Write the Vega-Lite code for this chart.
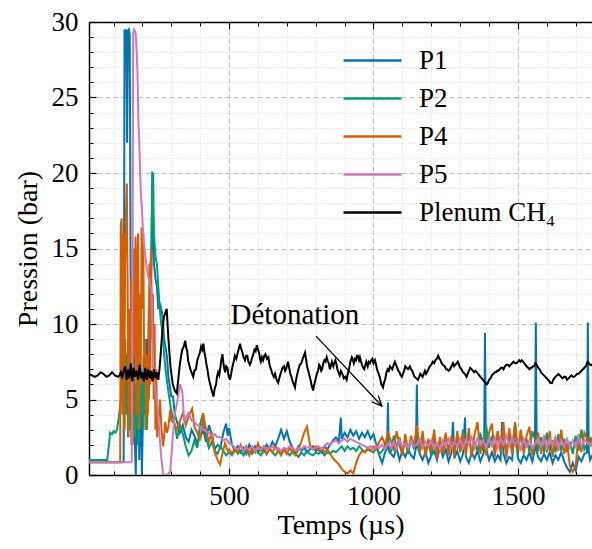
{
"$schema": "https://vega.github.io/schema/vega-lite/v6.json",
"width": 503, "height": 453,
"autosize": "none",
"padding": {"left": 89, "top": 22, "right": 0, "bottom": 74},
"background": "white",
"config": {"view": {"stroke": null}, "font": "Liberation Serif"},
"resolve": {"axis": {"x": "independent", "y": "independent"}},
"layer": [
{
"data": {"values": [
{"t":15,"P1":0.85,"P2":1.0,"P4":0.85,"P5":0.85,"Plenum CH₄":6.7},
{"t":25,"Plenum CH₄":6.6},{"t":35,"Plenum CH₄":6.5},{"t":45,"Plenum CH₄":6.6},{"t":55,"Plenum CH₄":6.8},{"t":65,"Plenum CH₄":6.7},{"t":75,"Plenum CH₄":6.5},{"t":85,"Plenum CH₄":6.6},{"t":95,"Plenum CH₄":6.8},{"t":105,"Plenum CH₄":6.6},{"t":115,"Plenum CH₄":6.5},
{"t":120,"Plenum CH₄":6.6},{"t":125,"Plenum CH₄":6.8},{"t":130,"Plenum CH₄":6.4},{"t":135,"Plenum CH₄":6.9},{"t":140,"Plenum CH₄":7.2},{"t":145,"Plenum CH₄":6.3},{"t":150,"Plenum CH₄":7.0},{"t":155,"Plenum CH₄":6.4},{"t":160,"Plenum CH₄":7.4},{"t":165,"Plenum CH₄":6.2},{"t":170,"Plenum CH₄":7.1},{"t":175,"Plenum CH₄":6.5},{"t":180,"Plenum CH₄":6.9},{"t":185,"Plenum CH₄":6.3},{"t":190,"Plenum CH₄":7.3},{"t":195,"Plenum CH₄":6.4},{"t":200,"Plenum CH₄":6.8},{"t":205,"Plenum CH₄":6.2},{"t":210,"Plenum CH₄":7.1},{"t":215,"Plenum CH₄":6.3},{"t":220,"Plenum CH₄":7.0},{"t":225,"Plenum CH₄":6.4},{"t":230,"Plenum CH₄":6.9},{"t":235,"Plenum CH₄":6.2},{"t":240,"Plenum CH₄":7.0},{"t":245,"Plenum CH₄":6.4},{"t":250,"Plenum CH₄":6.8},{"t":255,"Plenum CH₄":6.3},{"t":260,"Plenum CH₄":7.2},{"t":265,"Plenum CH₄":8.5},{"t":270,"Plenum CH₄":9.8},{"t":275,"Plenum CH₄":10.5},{"t":284,"Plenum CH₄":11.0},{"t":290,"Plenum CH₄":9.0},{"t":297,"Plenum CH₄":7.2},{"t":305,"Plenum CH₄":6.0},{"t":312,"Plenum CH₄":5.6},{"t":319,"Plenum CH₄":5.4},{"t":325,"Plenum CH₄":6.5},{"t":330,"Plenum CH₄":7.4},{"t":334,"Plenum CH₄":7.9},{"t":338,"Plenum CH₄":8.3},{"t":343,"Plenum CH₄":8.5},{"t":348,"Plenum CH₄":8.9},{"t":352,"Plenum CH₄":8.4},{"t":355,"Plenum CH₄":8.2},{"t":358,"Plenum CH₄":7.6},{"t":362,"Plenum CH₄":7.3},{"t":366,"Plenum CH₄":7.0},{"t":370,"Plenum CH₄":6.8},{"t":376,"Plenum CH₄":6.5},{"t":380,"Plenum CH₄":6.9},{"t":385,"Plenum CH₄":7.0},{"t":390,"Plenum CH₄":7.6},{"t":395,"Plenum CH₄":7.9},{"t":399,"Plenum CH₄":8.1},{"t":403,"Plenum CH₄":8.5},{"t":407,"Plenum CH₄":8.3},{"t":411,"Plenum CH₄":8.7},{"t":414,"Plenum CH₄":8.2},{"t":418,"Plenum CH₄":7.8},{"t":421,"Plenum CH₄":7.4},{"t":425,"Plenum CH₄":7.0},{"t":428,"Plenum CH₄":6.6},{"t":432,"Plenum CH₄":6.2},{"t":436,"Plenum CH₄":5.9},{"t":440,"Plenum CH₄":5.6},{"t":446,"Plenum CH₄":5.2},{"t":450,"Plenum CH₄":5.7},{"t":455,"Plenum CH₄":6.0},{"t":458,"Plenum CH₄":6.5},{"t":462,"Plenum CH₄":6.8},{"t":466,"Plenum CH₄":6.6},{"t":469,"Plenum CH₄":7.0},{"t":473,"Plenum CH₄":7.6},{"t":477,"Plenum CH₄":8.0},{"t":481,"Plenum CH₄":7.3},{"t":486,"Plenum CH₄":6.8},{"t":490,"Plenum CH₄":7.2},{"t":494,"Plenum CH₄":7.1},{"t":498,"Plenum CH₄":6.6},{"t":503,"Plenum CH₄":6.3},
{"t":508,"Plenum CH₄":6.8},{"t":512,"Plenum CH₄":7.2},{"t":516,"Plenum CH₄":7.5},{"t":520,"Plenum CH₄":7.9},{"t":525,"Plenum CH₄":7.7},{"t":530,"Plenum CH₄":8.1},{"t":534,"Plenum CH₄":8.4},{"t":538,"Plenum CH₄":8.7},{"t":541,"Plenum CH₄":8.4},{"t":545,"Plenum CH₄":8.2},{"t":550,"Plenum CH₄":7.8},{"t":555,"Plenum CH₄":7.6},{"t":559,"Plenum CH₄":7.9},{"t":563,"Plenum CH₄":7.9},{"t":567,"Plenum CH₄":7.5},{"t":572,"Plenum CH₄":7.3},{"t":576,"Plenum CH₄":7.5},{"t":580,"Plenum CH₄":7.8},{"t":584,"Plenum CH₄":8.0},{"t":588,"Plenum CH₄":8.3},{"t":592,"Plenum CH₄":8.2},{"t":596,"Plenum CH₄":8.6},{"t":600,"Plenum CH₄":8.3},{"t":604,"Plenum CH₄":8.1},{"t":607,"Plenum CH₄":7.7},{"t":610,"Plenum CH₄":7.5},{"t":614,"Plenum CH₄":7.8},{"t":618,"Plenum CH₄":7.6},{"t":622,"Plenum CH₄":7.9},{"t":626,"Plenum CH₄":8.0},{"t":631,"Plenum CH₄":7.7},{"t":636,"Plenum CH₄":7.8},{"t":640,"Plenum CH₄":7.3},{"t":645,"Plenum CH₄":7.0},{"t":650,"Plenum CH₄":6.7},{"t":655,"Plenum CH₄":6.5},{"t":659,"Plenum CH₄":6.7},{"t":663,"Plenum CH₄":6.4},{"t":667,"Plenum CH₄":6.2},{"t":670,"Plenum CH₄":6.1},{"t":675,"Plenum CH₄":6.5},{"t":680,"Plenum CH₄":6.8},{"t":685,"Plenum CH₄":7.1},{"t":690,"Plenum CH₄":7.2},{"t":694,"Plenum CH₄":6.9},{"t":697,"Plenum CH₄":7.0},{"t":701,"Plenum CH₄":7.3},{"t":704,"Plenum CH₄":7.5},{"t":708,"Plenum CH₄":7.1},{"t":712,"Plenum CH₄":6.7},{"t":716,"Plenum CH₄":6.5},{"t":720,"Plenum CH₄":6.2},{"t":724,"Plenum CH₄":6.0},{"t":728,"Plenum CH₄":5.8},{"t":731,"Plenum CH₄":6.2},{"t":735,"Plenum CH₄":6.6},{"t":740,"Plenum CH₄":7.0},{"t":745,"Plenum CH₄":7.3},{"t":750,"Plenum CH₄":7.4},{"t":755,"Plenum CH₄":7.7},{"t":759,"Plenum CH₄":7.9},{"t":763,"Plenum CH₄":8.1},{"t":767,"Plenum CH₄":7.6},{"t":770,"Plenum CH₄":7.2},{"t":774,"Plenum CH₄":6.9},{"t":778,"Plenum CH₄":6.6},{"t":782,"Plenum CH₄":6.3},{"t":785,"Plenum CH₄":6.0},{"t":791,"Plenum CH₄":5.6},{"t":795,"Plenum CH₄":6.0},{"t":800,"Plenum CH₄":6.4},{"t":804,"Plenum CH₄":6.7},{"t":808,"Plenum CH₄":6.9},{"t":812,"Plenum CH₄":7.3},{"t":815,"Plenum CH₄":7.2},{"t":819,"Plenum CH₄":6.9},{"t":822,"Plenum CH₄":7.0},{"t":826,"Plenum CH₄":7.4},{"t":830,"Plenum CH₄":7.6},{"t":834,"Plenum CH₄":7.5},{"t":838,"Plenum CH₄":7.8},{"t":841,"Plenum CH₄":7.6},{"t":845,"Plenum CH₄":7.4},{"t":849,"Plenum CH₄":7.0},{"t":852,"Plenum CH₄":7.2},{"t":856,"Plenum CH₄":7.5},{"t":861,"Plenum CH₄":7.2},{"t":864,"Plenum CH₄":7.4},{"t":868,"Plenum CH₄":7.6},{"t":872,"Plenum CH₄":7.3},{"t":875,"Plenum CH₄":7.0},{"t":879,"Plenum CH₄":6.8},{"t":883,"Plenum CH₄":6.6},{"t":887,"Plenum CH₄":6.9},{"t":890,"Plenum CH₄":6.8},{"t":894,"Plenum CH₄":6.6},{"t":897,"Plenum CH₄":6.4},{"t":902,"Plenum CH₄":6.5},{"t":907,"Plenum CH₄":6.3},{"t":911,"Plenum CH₄":6.7},{"t":915,"Plenum CH₄":7.0},{"t":920,"Plenum CH₄":7.5},{"t":925,"Plenum CH₄":7.8},{"t":929,"Plenum CH₄":7.6},{"t":932,"Plenum CH₄":7.4},{"t":936,"Plenum CH₄":7.7},{"t":940,"Plenum CH₄":7.6},{"t":943,"Plenum CH₄":7.9},{"t":946,"Plenum CH₄":7.9},{"t":950,"Plenum CH₄":7.6},{"t":953,"Plenum CH₄":7.8},{"t":957,"Plenum CH₄":7.5},{"t":960,"Plenum CH₄":7.3},{"t":964,"Plenum CH₄":7.1},{"t":968,"Plenum CH₄":7.0},{"t":972,"Plenum CH₄":7.3},{"t":975,"Plenum CH₄":7.5},{"t":980,"Plenum CH₄":7.2},{"t":984,"Plenum CH₄":7.5},{"t":988,"Plenum CH₄":7.4},{"t":992,"Plenum CH₄":7.6},{"t":996,"Plenum CH₄":7.7},{"t":1000,"Plenum CH₄":7.4},{"t":1005,"Plenum CH₄":7.6},{"t":1009,"Plenum CH₄":7.3},{"t":1012,"Plenum CH₄":7.0},{"t":1016,"Plenum CH₄":6.8},{"t":1020,"Plenum CH₄":6.6},{"t":1024,"Plenum CH₄":6.3},{"t":1027,"Plenum CH₄":6.0},{"t":1033,"Plenum CH₄":5.8},{"t":1036,"Plenum CH₄":6.1},{"t":1040,"Plenum CH₄":6.3},{"t":1045,"Plenum CH₄":6.8},{"t":1049,"Plenum CH₄":7.0},{"t":1053,"Plenum CH₄":6.9},{"t":1057,"Plenum CH₄":7.2},{"t":1061,"Plenum CH₄":7.1},{"t":1065,"Plenum CH₄":7.0},{"t":1070,"Plenum CH₄":7.3},{"t":1074,"Plenum CH₄":7.5},{"t":1078,"Plenum CH₄":7.3},{"t":1082,"Plenum CH₄":7.1},{"t":1086,"Plenum CH₄":6.9},{"t":1090,"Plenum CH₄":6.8},{"t":1094,"Plenum CH₄":6.6},{"t":1098,"Plenum CH₄":6.5},{"t":1102,"Plenum CH₄":6.7},{"t":1106,"Plenum CH₄":6.9},{"t":1110,"Plenum CH₄":7.2},{"t":1114,"Plenum CH₄":7.1},{"t":1120,"Plenum CH₄":7.0},{"t":1126,"Plenum CH₄":7.2},{"t":1130,"Plenum CH₄":7.0},{"t":1134,"Plenum CH₄":6.9},{"t":1138,"Plenum CH₄":6.7},{"t":1142,"Plenum CH₄":6.5},{"t":1148,"Plenum CH₄":6.4},{"t":1154,"Plenum CH₄":6.3},{"t":1158,"Plenum CH₄":6.5},{"t":1162,"Plenum CH₄":6.7},{"t":1166,"Plenum CH₄":6.6},{"t":1170,"Plenum CH₄":6.5},{"t":1174,"Plenum CH₄":6.7},{"t":1178,"Plenum CH₄":6.9},{"t":1182,"Plenum CH₄":6.7},{"t":1185,"Plenum CH₄":6.8},{"t":1190,"Plenum CH₄":7.0},{"t":1195,"Plenum CH₄":7.2},{"t":1200,"Plenum CH₄":7.3},{"t":1205,"Plenum CH₄":7.5},{"t":1210,"Plenum CH₄":7.4},{"t":1214,"Plenum CH₄":7.6},{"t":1219,"Plenum CH₄":7.7},{"t":1224,"Plenum CH₄":7.9},{"t":1228,"Plenum CH₄":7.7},{"t":1232,"Plenum CH₄":7.6},{"t":1236,"Plenum CH₄":7.4},{"t":1240,"Plenum CH₄":7.3},{"t":1247,"Plenum CH₄":7.2},{"t":1251,"Plenum CH₄":7.0},{"t":1255,"Plenum CH₄":7.0},{"t":1260,"Plenum CH₄":6.9},{"t":1265,"Plenum CH₄":7.0},{"t":1270,"Plenum CH₄":7.2},{"t":1275,"Plenum CH₄":7.4},{"t":1279,"Plenum CH₄":7.2},{"t":1283,"Plenum CH₄":7.3},{"t":1288,"Plenum CH₄":7.4},{"t":1292,"Plenum CH₄":7.5},{"t":1296,"Plenum CH₄":7.3},{"t":1300,"Plenum CH₄":7.1},{"t":1305,"Plenum CH₄":7.0},{"t":1310,"Plenum CH₄":6.8},{"t":1316,"Plenum CH₄":6.7},{"t":1322,"Plenum CH₄":6.5},{"t":1326,"Plenum CH₄":6.7},{"t":1330,"Plenum CH₄":6.9},{"t":1335,"Plenum CH₄":7.1},{"t":1340,"Plenum CH₄":7.0},{"t":1344,"Plenum CH₄":6.9},{"t":1348,"Plenum CH₄":6.8},{"t":1353,"Plenum CH₄":6.9},{"t":1358,"Plenum CH₄":6.8},{"t":1362,"Plenum CH₄":6.7},{"t":1366,"Plenum CH₄":6.6},{"t":1370,"Plenum CH₄":6.5},{"t":1375,"Plenum CH₄":6.4},{"t":1379,"Plenum CH₄":6.3},{"t":1383,"Plenum CH₄":6.2},{"t":1388,"Plenum CH₄":6.1},{"t":1392,"Plenum CH₄":6.0},{"t":1396,"Plenum CH₄":6.1},{"t":1400,"Plenum CH₄":6.3},{"t":1405,"Plenum CH₄":6.4},{"t":1410,"Plenum CH₄":6.6},{"t":1415,"Plenum CH₄":6.7},{"t":1420,"Plenum CH₄":6.8},{"t":1424,"Plenum CH₄":6.8},{"t":1428,"Plenum CH₄":6.9},{"t":1432,"Plenum CH₄":6.9},{"t":1437,"Plenum CH₄":7.0},{"t":1441,"Plenum CH₄":7.1},{"t":1446,"Plenum CH₄":7.1},{"t":1450,"Plenum CH₄":7.0},{"t":1455,"Plenum CH₄":7.2},{"t":1460,"Plenum CH₄":7.3},{"t":1465,"Plenum CH₄":7.3},{"t":1470,"Plenum CH₄":7.2},{"t":1475,"Plenum CH₄":7.3},{"t":1480,"Plenum CH₄":7.4},{"t":1485,"Plenum CH₄":7.5},{"t":1490,"Plenum CH₄":7.4},{"t":1495,"Plenum CH₄":7.4},{"t":1500,"Plenum CH₄":7.5},{"t":1505,"Plenum CH₄":7.6},{"t":1509,"Plenum CH₄":7.5},{"t":1513,"Plenum CH₄":7.6},{"t":1518,"Plenum CH₄":7.5},{"t":1522,"Plenum CH₄":7.4},{"t":1526,"Plenum CH₄":7.3},{"t":1530,"Plenum CH₄":7.2},{"t":1535,"Plenum CH₄":7.1},{"t":1540,"Plenum CH₄":7.0},{"t":1544,"Plenum CH₄":7.1},{"t":1548,"Plenum CH₄":7.1},{"t":1552,"Plenum CH₄":7.2},{"t":1556,"Plenum CH₄":7.2},{"t":1560,"Plenum CH₄":7.4},{"t":1565,"Plenum CH₄":7.3},{"t":1570,"Plenum CH₄":7.1},{"t":1575,"Plenum CH₄":7.0},{"t":1580,"Plenum CH₄":6.8},{"t":1585,"Plenum CH₄":6.7},{"t":1590,"Plenum CH₄":6.6},{"t":1595,"Plenum CH₄":6.5},{"t":1600,"Plenum CH₄":6.4},{"t":1605,"Plenum CH₄":6.3},{"t":1609,"Plenum CH₄":6.2},{"t":1612,"Plenum CH₄":6.1},{"t":1618,"Plenum CH₄":6.1},{"t":1622,"Plenum CH₄":6.3},{"t":1626,"Plenum CH₄":6.4},{"t":1630,"Plenum CH₄":6.5},{"t":1635,"Plenum CH₄":6.6},{"t":1640,"Plenum CH₄":6.7},{"t":1645,"Plenum CH₄":6.6},{"t":1650,"Plenum CH₄":6.5},{"t":1655,"Plenum CH₄":6.4},{"t":1660,"Plenum CH₄":6.5},{"t":1665,"Plenum CH₄":6.5},{"t":1670,"Plenum CH₄":6.3},{"t":1675,"Plenum CH₄":6.4},{"t":1680,"Plenum CH₄":6.5},{"t":1685,"Plenum CH₄":6.6},{"t":1690,"Plenum CH₄":6.5},{"t":1695,"Plenum CH₄":6.5},{"t":1700,"Plenum CH₄":6.6},{"t":1705,"Plenum CH₄":6.7},{"t":1710,"Plenum CH₄":6.7},{"t":1715,"Plenum CH₄":6.8},{"t":1720,"Plenum CH₄":6.9},{"t":1725,"Plenum CH₄":7.0},{"t":1730,"Plenum CH₄":7.1},{"t":1735,"Plenum CH₄":7.2},{"t":1739,"Plenum CH₄":7.4},{"t":1742,"Plenum CH₄":7.5},{"t":1746,"Plenum CH₄":7.4},{"t":1750,"Plenum CH₄":7.3},{"t":1755,"Plenum CH₄":7.3},{"t":1760,"Plenum CH₄":7.2},

{"t":40,"P1":0.85},{"t":70,"P1":0.85},{"t":100,"P1":0.85},{"t":120,"P1":0.85},{"t":132,"P1":0.85},{"t":135,"P1":0.9},{"t":138,"P1":29.5},{"t":141,"P1":29.3},{"t":144,"P1":29.5},{"t":147,"P1":22},{"t":150,"P1":29.4},{"t":153,"P1":29.5},{"t":156,"P1":29.2},{"t":159,"P1":14},{"t":162,"P1":3},{"t":165,"P1":11},{"t":168,"P1":4},{"t":171,"P1":8},{"t":174,"P1":2},{"t":177,"P1":0},{"t":180,"P1":5},{"t":183,"P1":2},{"t":186,"P1":7},{"t":189,"P1":1},{"t":192,"P1":4},{"t":195,"P1":6},{"t":198,"P1":0},{"t":201,"P1":3},{"t":204,"P1":8},{"t":207,"P1":4},{"t":210,"P1":7},{"t":213,"P1":3},{"t":216,"P1":9},{"t":219,"P1":5},{"t":222,"P1":11},{"t":225,"P1":6},{"t":228,"P1":12},{"t":231,"P1":14},{"t":234,"P1":20.1},{"t":237,"P1":16},{"t":240,"P1":14},{"t":245,"P1":13},{"t":250,"P1":12.5},{"t":255,"P1":11},{"t":260,"P1":11.4},{"t":265,"P1":11},{"t":270,"P1":10.5},{"t":275,"P1":9},{"t":280,"P1":8.5},{"t":285,"P1":7.8},{"t":290,"P1":6.5},{"t":300,"P1":5.2},{"t":306,"P1":5.2},{"t":312,"P1":4},{"t":320,"P1":3.5},{"t":330,"P1":2.8},{"t":340,"P1":3.3},{"t":350,"P1":2.5},{"t":360,"P1":2.2},{"t":370,"P1":3},{"t":380,"P1":2.6},{"t":390,"P1":2.1},{"t":400,"P1":2.5},{"t":410,"P1":3},{"t":420,"P1":2.2},{"t":430,"P1":3.3},{"t":440,"P1":2.7},{"t":450,"P1":1.7},{"t":460,"P1":2},{"t":470,"P1":1.8},{"t":480,"P1":2.8},{"t":490,"P1":3.4},{"t":495,"P1":2.6},

{"t":78,"P2":1.0},{"t":84,"P2":2.0},{"t":88,"P2":2.8},{"t":95,"P2":2.7},{"t":100,"P2":2.9},{"t":106,"P2":2.8},{"t":112,"P2":3.0},{"t":118,"P2":3.8},{"t":123,"P2":4.6},{"t":126,"P2":5.2},{"t":129,"P2":6},{"t":132,"P2":8},{"t":135,"P2":12},{"t":138,"P2":3},{"t":141,"P2":9},{"t":144,"P2":4},{"t":147,"P2":8},{"t":150,"P2":2.5},{"t":153,"P2":11},{"t":156,"P2":3},{"t":159,"P2":6},{"t":162,"P2":2},{"t":165,"P2":9},{"t":168,"P2":3.5},{"t":171,"P2":7},{"t":174,"P2":2.5},{"t":177,"P2":6},{"t":180,"P2":3},{"t":183,"P2":8},{"t":186,"P2":2},{"t":189,"P2":5},{"t":192,"P2":3},{"t":195,"P2":7},{"t":198,"P2":4},{"t":201,"P2":6},{"t":204,"P2":3},{"t":207,"P2":9},{"t":210,"P2":4},{"t":213,"P2":7},{"t":216,"P2":3},{"t":219,"P2":6},{"t":222,"P2":5},{"t":225,"P2":9},{"t":228,"P2":14},{"t":231,"P2":15},{"t":234,"P2":19},{"t":237,"P2":20},{"t":240,"P2":16},{"t":245,"P2":14.5},{"t":250,"P2":14},{"t":255,"P2":12.5},{"t":260,"P2":11},{"t":265,"P2":10},{"t":270,"P2":9.5},{"t":275,"P2":8},{"t":280,"P2":7},{"t":290,"P2":5.5},{"t":300,"P2":4.2},{"t":310,"P2":3.5},{"t":320,"P2":2.4},{"t":330,"P2":3.3},{"t":340,"P2":2.7},{"t":350,"P2":1.9},{"t":360,"P2":1.3},{"t":370,"P2":1.6},{"t":380,"P2":2.3},{"t":390,"P2":1.8},{"t":400,"P2":3.4},{"t":410,"P2":4.1},{"t":415,"P2":3.0},{"t":420,"P2":2.5},{"t":430,"P2":1.8},{"t":440,"P2":2.2},{"t":450,"P2":1.6},{"t":460,"P2":1.4},{"t":470,"P2":1.9},{"t":480,"P2":1.6},{"t":490,"P2":1.3},

{"t":60,"P4":0.85},{"t":100,"P4":0.85},{"t":121,"P4":0.85},{"t":123,"P4":0.9},{"t":125,"P4":16.5},{"t":128,"P4":17},{"t":131,"P4":4},{"t":134,"P4":16},{"t":137,"P4":3},{"t":140,"P4":14},{"t":143,"P4":17.5},{"t":146,"P4":19.3},{"t":149,"P4":12},{"t":152,"P4":2.5},{"t":155,"P4":11},{"t":158,"P4":4},{"t":161,"P4":13},{"t":164,"P4":6},{"t":167,"P4":2},{"t":170,"P4":15},{"t":173,"P4":8},{"t":176,"P4":15.8},{"t":179,"P4":4},{"t":182,"P4":14},{"t":185,"P4":16},{"t":188,"P4":3},{"t":191,"P4":12},{"t":194,"P4":6},{"t":197,"P4":16.4},{"t":200,"P4":11},{"t":203,"P4":16},{"t":206,"P4":7},{"t":209,"P4":9},{"t":212,"P4":3},{"t":215,"P4":8},{"t":218,"P4":4},{"t":221,"P4":6},{"t":224,"P4":14},{"t":227,"P4":6},{"t":230,"P4":15},{"t":233,"P4":9},{"t":236,"P4":12},{"t":239,"P4":5},{"t":242,"P4":10},{"t":245,"P4":3},{"t":248,"P4":7},{"t":251,"P4":2.5},{"t":255,"P4":3.5},{"t":261,"P4":5},{"t":266,"P4":3.0},{"t":272,"P4":1.9},{"t":279,"P4":3.5},{"t":285,"P4":2.8},{"t":290,"P4":3.2},{"t":296,"P4":4.3},{"t":300,"P4":3.6},{"t":310,"P4":3.4},{"t":320,"P4":3.0},{"t":330,"P4":3.6},{"t":340,"P4":4.1},{"t":350,"P4":3.3},{"t":360,"P4":3.9},{"t":372,"P4":4.4},{"t":380,"P4":3.2},{"t":390,"P4":2.8},{"t":400,"P4":2.3},{"t":405,"P4":3.0},{"t":410,"P4":4.1},{"t":420,"P4":3.0},{"t":430,"P4":2.2},{"t":440,"P4":2.8},{"t":450,"P4":1.5},{"t":460,"P4":1.0},{"t":469,"P4":0.7},{"t":478,"P4":1.5},{"t":486,"P4":2.1},{"t":495,"P4":1.6},

{"t":80,"P5":0.85},{"t":130,"P5":0.85},{"t":160,"P5":0.85},{"t":163,"P5":0.9},{"t":166,"P5":15},{"t":168,"P5":29.3},{"t":171,"P5":29.5},{"t":174,"P5":29.4},{"t":177,"P5":29.2},{"t":180,"P5":28},{"t":183,"P5":26.6},{"t":186,"P5":23.5},{"t":189,"P5":22},{"t":192,"P5":20},{"t":195,"P5":18.5},{"t":198,"P5":17.7},{"t":201,"P5":16.5},{"t":204,"P5":15.6},{"t":207,"P5":15},{"t":210,"P5":14.5},{"t":213,"P5":14},{"t":216,"P5":13.6},{"t":219,"P5":13.2},{"t":222,"P5":13},{"t":225,"P5":12.7},{"t":228,"P5":12.5},{"t":231,"P5":12.3},{"t":234,"P5":10},{"t":237,"P5":7.2},{"t":240,"P5":6.5},{"t":245,"P5":5.5},{"t":251,"P5":4.8},{"t":258,"P5":3},{"t":265,"P5":1.2},{"t":272,"P5":0},{"t":284,"P5":0},{"t":296,"P5":0.2},{"t":305,"P5":2.5},{"t":312,"P5":4},{"t":320,"P5":4.8},{"t":330,"P5":6},{"t":338,"P5":5.5},{"t":345,"P5":3.5},{"t":352,"P5":3.9},{"t":360,"P5":4.1},{"t":370,"P5":3.6},{"t":380,"P5":3.5},{"t":390,"P5":3.3},{"t":400,"P5":3.2},{"t":410,"P5":3.0},{"t":420,"P5":2.9},{"t":430,"P5":2.8},{"t":440,"P5":2.6},{"t":450,"P5":2.7},{"t":460,"P5":2.5},{"t":470,"P5":2.5},{"t":480,"P5":2.3},{"t":490,"P5":2.4},

{"t":500,"P1":3.1,"P2":1.5,"P4":1.7,"P5":2.1},
{"t":510,"P1":2.0,"P2":1.3,"P4":1.4,"P5":2.0},
{"t":520,"P1":1.6,"P2":1.7,"P4":1.8,"P5":1.8},
{"t":530,"P1":1.9,"P2":1.4,"P4":1.5,"P5":1.7},
{"t":540,"P1":1.5,"P2":1.6,"P4":2.0,"P5":1.9},
{"t":550,"P1":1.8,"P2":1.3,"P4":1.6,"P5":1.6},
{"t":560,"P1":1.4,"P2":1.7,"P4":1.9,"P5":1.8},
{"t":570,"P1":2.0,"P2":1.5,"P4":1.3,"P5":1.7},
{"t":580,"P1":1.6,"P2":1.4,"P4":1.8,"P5":1.9},
{"t":590,"P1":1.9,"P2":1.8,"P4":1.5,"P5":1.6},
{"t":600,"P1":1.5,"P2":1.5,"P4":2.1,"P5":1.8},
{"t":610,"P1":1.8,"P2":1.3,"P4":1.6,"P5":1.7},
{"t":620,"P1":1.6,"P2":1.6,"P4":1.9,"P5":1.9},
{"t":630,"P1":2.0,"P2":1.4,"P4":1.4,"P5":1.7},
{"t":640,"P1":1.7,"P2":1.7,"P4":1.8,"P5":1.8},
{"t":650,"P1":2.2,"P2":1.5,"P4":1.5,"P5":1.9},
{"t":660,"P1":1.9,"P2":1.3,"P4":1.9,"P5":1.7},
{"t":670,"P1":2.4,"P2":1.6,"P4":1.6,"P5":1.8},
{"t":680,"P1":3.0,"P2":1.4,"P4":1.3,"P5":1.6},
{"t":690,"P1":2.4,"P2":1.7,"P4":1.7,"P5":1.8},
{"t":700,"P1":2.9,"P2":1.5,"P4":1.4,"P5":1.7},
{"t":710,"P1":2.2,"P2":1.3,"P4":1.8,"P5":1.9},
{"t":720,"P1":1.8,"P2":1.6,"P4":1.5,"P5":1.8},
{"t":730,"P1":1.5,"P2":1.4,"P4":1.3,"P5":1.6},
{"t":740,"P1":1.9,"P2":1.2,"P4":1.7,"P5":1.8},
{"t":750,"P1":1.6,"P2":1.5,"P4":2.2,"P5":1.7},
{"t":760,"P1":1.8,"P2":1.3,"P4":2.8,"P5":1.9},
{"t":770,"P1":1.5,"P2":1.6,"P4":3.2,"P5":1.8},
{"t":780,"P1":1.7,"P2":1.4,"P4":2.0,"P5":1.9},
{"t":790,"P1":1.9,"P2":1.3,"P4":1.7,"P5":1.7},
{"t":800,"P1":1.6,"P2":1.5,"P4":1.9,"P5":1.8},
{"t":810,"P1":1.8,"P2":1.4,"P4":1.6,"P5":1.9},
{"t":820,"P1":1.5,"P2":1.6,"P4":1.8,"P5":1.7},
{"t":830,"P1":1.9,"P2":1.3,"P4":1.5,"P5":1.9},
{"t":840,"P1":1.7,"P2":1.5,"P4":1.7,"P5":2.1},
{"t":850,"P1":2.0,"P2":1.4,"P4":1.4,"P5":2.0},
{"t":860,"P1":2.3,"P2":1.6,"P4":1.1,"P5":2.2},
{"t":870,"P1":2.5,"P2":1.5,"P4":0.9,"P5":2.3},
{"t":880,"P1":2.2,"P2":1.7,"P4":0.7,"P5":2.1},
{"t":887,"P1":3.8},
{"t":890,"P1":2.4,"P2":1.9,"P4":0.4,"P5":2.3},
{"t":900,"P1":2.8,"P2":1.6,"P4":0.2,"P5":2.4},
{"t":910,"P1":2.5,"P2":1.9,"P4":0.1,"P5":2.2},
{"t":920,"P1":3.0,"P2":1.7,"P4":0.3,"P5":2.4},
{"t":930,"P1":2.6,"P2":1.8,"P4":0.1,"P5":2.3},
{"t":940,"P1":2.9,"P2":1.6,"P4":0.8,"P5":2.2},
{"t":950,"P1":2.4,"P2":1.9,"P4":1.3,"P5":2.1},
{"t":960,"P1":2.8,"P2":1.7,"P4":1.6,"P5":2.0},
{"t":970,"P1":2.5,"P2":1.5,"P4":1.5,"P5":1.9},
{"t":980,"P1":2.9,"P2":1.7,"P4":1.8,"P5":1.8},
{"t":990,"P1":2.4,"P2":1.6,"P4":1.6,"P5":1.9},
{"t":1000,"P1":2.7,"P2":1.5,"P4":1.9,"P5":1.7},
{"t":1010,"P1":2.0,"P2":1.8,"P4":1.7,"P5":1.9},
{"t":1020,"P1":1.3,"P2":1.4,"P4":2.2,"P5":1.8},
{"t":1030,"P1":0.8,"P2":1.6,"P4":2.5,"P5":2.0},
{"t":1040,"P1":1.5,"P2":1.9,"P4":2.0,"P5":1.7},
{"t":1047,"P1":1.8},
{"t":1050,"P1":4.8,"P2":2.3,"P4":2.8,"P5":2.1},
{"t":1053,"P1":1.6},
{"t":1060,"P1":1.4,"P2":1.5,"P4":2.3,"P5":1.8},
{"t":1070,"P1":1.2,"P2":2.6,"P4":1.6,"P5":2.2},
{"t":1080,"P1":1.8,"P2":1.8,"P4":2.9,"P5":1.7},
{"t":1090,"P1":1.0,"P2":2.5,"P4":2.0,"P5":2.3},
{"t":1100,"P1":1.6,"P2":1.6,"P4":1.3,"P5":1.9},
{"t":1110,"P1":1.2,"P2":2.2,"P4":2.7,"P5":2.1},
{"t":1120,"P1":1.7,"P2":1.4,"P4":1.6,"P5":1.8},
{"t":1130,"P1":1.3,"P2":2.4,"P4":2.6,"P5":2.3},
{"t":1140,"P1":1.1,"P2":1.7,"P4":1.9,"P5":1.9},
{"t":1147,"P1":1.8},
{"t":1150,"P1":6.0,"P2":2.8,"P4":3.3,"P5":2.0},
{"t":1153,"P1":1.9},
{"t":1160,"P1":1.4,"P2":1.5,"P4":1.5,"P5":2.4},
{"t":1170,"P1":1.0,"P2":2.3,"P4":2.9,"P5":1.8},
{"t":1180,"P1":1.5,"P2":1.6,"P4":1.2,"P5":2.2},
{"t":1190,"P1":0.8,"P2":2.1,"P4":2.4,"P5":1.9},
{"t":1200,"P1":1.3,"P2":1.3,"P4":1.6,"P5":2.3},
{"t":1210,"P1":1.6,"P2":2.5,"P4":3.0,"P5":1.8},
{"t":1220,"P1":1.0,"P2":1.6,"P4":1.1,"P5":2.1},
{"t":1230,"P1":1.9,"P2":2.2,"P4":2.5,"P5":1.7},
{"t":1240,"P1":1.2,"P2":1.4,"P4":1.4,"P5":2.3},
{"t":1250,"P1":1.7,"P2":2.6,"P4":2.8,"P5":1.9},
{"t":1260,"P1":0.9,"P2":1.7,"P4":1.3,"P5":2.4},
{"t":1270,"P1":1.5,"P2":2.3,"P4":2.6,"P5":1.8},
{"t":1275,"P1":3.5},
{"t":1280,"P1":1.1,"P2":1.5,"P4":1.2,"P5":2.2},
{"t":1290,"P1":1.6,"P2":2.4,"P4":2.9,"P5":1.9},
{"t":1300,"P1":0.9,"P2":1.6,"P4":1.5,"P5":2.4},
{"t":1310,"P1":1.4,"P2":3.0,"P4":2.7,"P5":1.8},
{"t":1317,"P1":3.8},
{"t":1320,"P1":1.2,"P2":1.7,"P4":1.3,"P5":2.3},
{"t":1330,"P1":0.8,"P2":2.6,"P4":3.1,"P5":2.0},
{"t":1340,"P1":1.5,"P2":1.4,"P4":1.2,"P5":2.5},
{"t":1350,"P1":1.1,"P2":2.2,"P4":2.7,"P5":1.8},
{"t":1360,"P1":1.6,"P2":1.5,"P4":3.5,"P5":2.4},
{"t":1370,"P1":0.9,"P2":2.8,"P4":1.4,"P5":2.0},
{"t":1380,"P1":1.4,"P2":1.6,"P4":2.5,"P5":2.3},
{"t":1383,"P1":1.6},
{"t":1386,"P1":9.4},
{"t":1389,"P1":1.8},
{"t":1390,"P2":3.3,"P4":1.3,"P5":1.8},
{"t":1400,"P1":1.0,"P2":1.8,"P4":2.8,"P5":2.4},
{"t":1410,"P1":1.5,"P2":2.6,"P4":3.4,"P5":1.9},
{"t":1420,"P1":0.9,"P2":1.4,"P4":1.2,"P5":2.5},
{"t":1430,"P1":1.3,"P2":2.9,"P4":2.9,"P5":1.8},
{"t":1440,"P1":1.0,"P2":1.6,"P4":1.5,"P5":2.4},
{"t":1445,"P1":3.5},
{"t":1450,"P1":1.4,"P2":2.4,"P4":3.5,"P5":2.0},
{"t":1460,"P1":0.8,"P2":1.5,"P4":1.1,"P5":2.6},
{"t":1470,"P1":1.2,"P2":2.7,"P4":3.1,"P5":1.9},
{"t":1480,"P1":1.0,"P2":1.6,"P4":1.4,"P5":2.5},
{"t":1490,"P1":3.5,"P2":2.3,"P4":3.5,"P5":2.0},
{"t":1500,"P1":1.1,"P2":1.4,"P4":1.6,"P5":2.3},
{"t":1510,"P1":0.8,"P2":2.8,"P4":3.0,"P5":1.7},
{"t":1520,"P1":1.3,"P2":1.7,"P4":1.4,"P5":2.4},
{"t":1530,"P1":1.0,"P2":2.4,"P4":2.6,"P5":1.9},
{"t":1540,"P1":1.5,"P2":1.5,"P4":3.2,"P5":2.3},
{"t":1550,"P1":0.9,"P2":2.9,"P4":1.3,"P5":1.8},
{"t":1559,"P1":1.7},
{"t":1562,"P1":10.1},
{"t":1565,"P1":1.6},
{"t":1570,"P1":1.2,"P2":1.7,"P4":2.8,"P5":2.4},
{"t":1580,"P1":0.9,"P2":2.5,"P4":1.4,"P5":1.9},
{"t":1590,"P1":1.4,"P2":1.5,"P4":2.6,"P5":2.5},
{"t":1600,"P1":1.0,"P2":2.8,"P4":1.5,"P5":1.8},
{"t":1610,"P1":1.5,"P2":1.6,"P4":2.9,"P5":2.4},
{"t":1620,"P1":0.8,"P2":2.3,"P4":1.2,"P5":2.0},
{"t":1630,"P1":1.3,"P2":1.5,"P4":2.5,"P5":2.5},
{"t":1640,"P1":1.0,"P2":2.7,"P4":1.6,"P5":1.8},
{"t":1650,"P1":1.5,"P2":1.6,"P4":3.0,"P5":2.3},
{"t":1660,"P1":0.9,"P2":2.4,"P4":1.4,"P5":1.9},
{"t":1670,"P1":0.5,"P2":1.5,"P4":2.1,"P5":2.4},
{"t":1680,"P1":0.2,"P2":2.2,"P4":0.6,"P5":1.8},
{"t":1690,"P1":0.8,"P2":1.4,"P4":0.2,"P5":2.3},
{"t":1700,"P1":0.3,"P2":2.6,"P4":0.6,"P5":1.9},
{"t":1710,"P1":1.2,"P2":1.6,"P4":2.7,"P5":2.5},
{"t":1720,"P1":0.9,"P2":3.0,"P4":1.5,"P5":1.9},
{"t":1730,"P1":1.4,"P2":1.7,"P4":2.8,"P5":2.3},
{"t":1739,"P1":1.5},
{"t":1742,"P1":10.1},
{"t":1745,"P1":1.6},
{"t":1750,"P1":1.0,"P2":2.4,"P4":2.0,"P5":2.0},
{"t":1760,"P1":1.4,"P2":1.8,"P4":2.6,"P5":2.2}
]},
"transform": [{"fold": ["P1","P2","P4","P5","Plenum CH₄"], "as": ["serie","p"]}, {"filter": "isValid(datum.p) && isFinite(datum.p)"}],
"mark": {"type": "line", "clip": true, "strokeWidth": 2},
"encoding": {
"x": {"field": "t", "type": "quantitative",
 "scale": {"domain": [15, 1756.5], "nice": false, "zero": false},
 "axis": {"orient": "bottom", "values": [500,1000,1500],
  "format": "d",
  "domain": true, "domainColor": "black", "domainWidth": 1.5,
  "ticks": true, "tickColor": "black", "tickWidth": 1.2, "tickSize": -7,
  "grid": true, "gridWidth": 0.8, "gridColor": "#b0b0b0", "gridDash": [5,3],
  "labelFont": "Liberation Serif", "labelFontSize": 27, "labelColor": "black", "labelPadding": 15,
  "labelFlush": false, "labelOverlap": false,
  "title": "Temps (µs)", "titleFont": "Liberation Serif", "titleFontSize": 28, "titleFontWeight": "normal", "titleColor": "black", "titlePadding": 2}},
"y": {"field": "p", "type": "quantitative",
 "scale": {"domain": [0, 30], "nice": false, "zero": false},
 "axis": {"orient": "left", "values": [0,5,10,15,20,25,30],
  "format": "d",
  "domain": true, "domainColor": "black", "domainWidth": 1.5,
  "ticks": true, "tickColor": "black", "tickWidth": 1.2, "tickSize": -7,
  "grid": true, "gridWidth": 0.8, "gridColor": "#b0b0b0", "gridDash": [5,3],
  "labelFont": "Liberation Serif", "labelFontSize": 27, "labelColor": "black", "labelPadding": 18,
  "labelFlush": false, "labelOverlap": false,
  "title": "Pression (bar)", "titleFont": "Liberation Serif", "titleFontSize": 28, "titleFontWeight": "normal", "titleColor": "black", "titlePadding": 9}},
"color": {"field": "serie", "type": "nominal",
 "scale": {"domain": ["P1","P2","P4","P5","Plenum CH₄"], "range": ["#0173B2","#029E73","#D55E00","#CC78BC","#000000"]},
 "legend": {"title": null, "orient": "none", "legendX": 270, "legendY": 25, "padding": 0,
  "symbolType": "M-2.9,0L2.9,0", "symbolSize": 400, "symbolStrokeWidth": 2.5, "symbolFillColor": "transparent",
  "labelFont": "Liberation Serif", "labelFontSize": 27, "labelColor": "black", "labelOffset": 33, "labelLimit": 400,
  "rowPadding": 10}},
"strokeWidth": {"condition": {"test": "datum.serie === 'Plenum CH₄'", "value": 2.5}, "value": 2}
}
},
{
"data": {"values": [{"t": 728, "p": 10.6, "txt": "Détonation"}]},
"mark": {"type": "text", "font": "Liberation Serif", "fontSize": 29, "align": "center", "baseline": "middle", "color": "black"},
"encoding": {
"x": {"field": "t", "type": "quantitative", "scale": {"domain": [15, 1756.5], "nice": false, "zero": false},
 "axis": {"orient": "top", "values": [500,1000,1500],
  "labels": false, "grid": false, "domain": true, "domainColor": "black", "domainWidth": 1.5,
  "ticks": true, "tickColor": "black", "tickWidth": 1.2, "tickSize": -7, "title": null}},
"y": {"field": "p", "type": "quantitative", "scale": {"domain": [0, 30], "nice": false, "zero": false},
 "axis": {"orient": "left", "values": [1,2,3,4,6,7,8,9,11,12,13,14,16,17,18,19,21,22,23,24,26,27,28,29],
  "labels": false, "domain": false, "ticks": true, "tickColor": "black", "tickWidth": 1, "tickSize": -4,
  "grid": true, "gridWidth": 0.8, "gridColor": "#d0d0d0", "gridDash": [1,2], "title": null}},
"text": {"field": "txt"}
}
},
{
"data": {"values": [{"t": 801, "p": 9.2, "t2": 1029, "p2": 4.57}]},
"mark": {"type": "rule", "color": "black", "strokeWidth": 1.3},
"encoding": {
"x": {"field": "t", "type": "quantitative", "scale": {"domain": [15, 1756.5], "nice": false, "zero": false},
 "axis": {"orient": "bottom", "values": [100,200,300,400,600,700,800,900,1100,1200,1300,1400,1600,1700],
  "labels": false, "domain": false, "ticks": true, "tickColor": "black", "tickWidth": 1, "tickSize": -4,
  "grid": true, "gridWidth": 0.8, "gridColor": "#d0d0d0", "gridDash": [1,2], "title": null}},
"y": {"field": "p", "type": "quantitative", "scale": {"domain": [0, 30], "nice": false, "zero": false}, "axis": null},
"x2": {"field": "t2"},
"y2": {"field": "p2"}
}
},
{
"data": {"values": [{"t": 1029, "p": 4.57}]},
"mark": {"type": "point", "shape": "M-1,-0.45L0,0L-1,0.45", "filled": false, "stroke": "black", "strokeWidth": 1.3, "size": 400, "angle": 46.7, "opacity": 1},
"encoding": {
"x": {"field": "t", "type": "quantitative", "scale": {"domain": [15, 1756.5], "nice": false, "zero": false},
 "axis": {"orient": "top", "values": [100,200,300,400,600,700,800,900,1100,1200,1300,1400,1600,1700],
  "labels": false, "domain": false, "grid": false, "ticks": true, "tickColor": "black", "tickWidth": 1, "tickSize": -4, "title": null}},
"y": {"field": "p", "type": "quantitative", "scale": {"domain": [0, 30], "nice": false, "zero": false}, "axis": null}
}
}
]
}
